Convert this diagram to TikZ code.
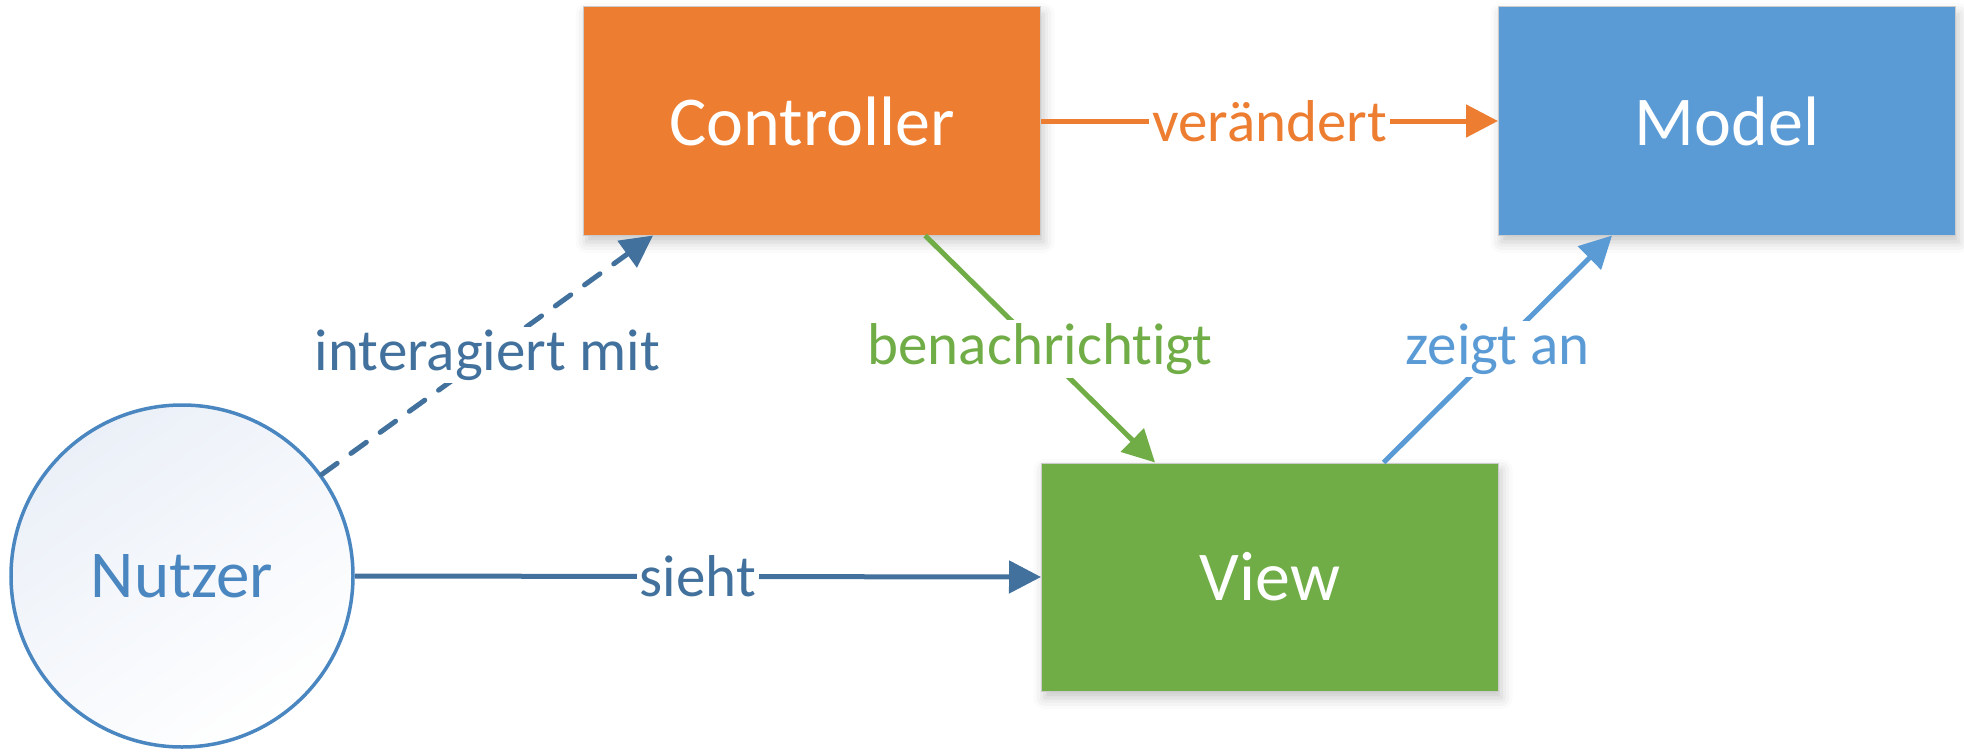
\documentclass[tikz,border=0pt]{standalone}
\usepackage{fontspec}
\setmainfont[RawFeature={-liga;-clig;-calt;-dlig}]{Carlito}
\usetikzlibrary{arrows.meta,calc,shadows.blur}
\definecolor{ctrlorange}{HTML}{ED7D31}
\definecolor{modelblue}{HTML}{5B9BD5}
\definecolor{viewgreen}{HTML}{70AD47}
\definecolor{userblue}{HTML}{41719C}
\definecolor{usertext}{HTML}{4A86C0}
\definecolor{userfill}{HTML}{EBF0F8}
\begin{document}
\begin{tikzpicture}[x=1pt,y=-1pt,
  box/.style={rectangle, draw=black!20, line width=1pt,
    minimum width=457pt, minimum height=228pt, inner sep=0pt,
    text=white, font=\fontsize{70}{84}\selectfont,
    blur shadow={shadow xshift=3pt, shadow yshift=-7pt,
      shadow blur radius=11pt, shadow opacity=22}},
  usernode/.style={circle, draw=usertext, line width=3.5pt,
    minimum size=342pt, inner sep=0pt, text=usertext,
    top color=userfill, bottom color=white, shading angle=35,
    font=\fontsize{67}{80}\selectfont},
  conn/.style={line width=5pt, -{Triangle[length=32pt,width=32pt]}},
  lbl/.style={fill=white, inner sep=3pt, font=\fontsize{59}{70}\selectfont}
]
\useasboundingbox (0,0) rectangle (1964,752);

% the three parts of the pattern and the user
\node[box, fill=ctrlorange] (ctrl)  at (812,121)  {Controller};
\node[box, fill=modelblue]  (model) at (1727,121) {Model};
\node[box, fill=viewgreen]  (view)  at (1270,577) {View};
\node[usernode] (user) at (182,576) {Nutzer};

% anchor points on the box edges
\coordinate (ctrlA)  at ($(ctrl.south west)!0.153!(ctrl.south east)$);
\coordinate (ctrlB)  at ($(ctrl.south west)!0.747!(ctrl.south east)$);
\coordinate (viewA)  at ($(view.north west)!0.249!(view.north east)$);
\coordinate (viewB)  at ($(view.north west)!0.748!(view.north east)$);
\coordinate (modelA) at ($(model.south west)!0.249!(model.south east)$);

% connectors
\draw[conn, ctrlorange] (ctrl.east) -- node[lbl, text=ctrlorange] {verändert} (model.west);
\draw[conn, userblue] (user.east) -- node[lbl, text=userblue] {sieht} (view.west);
\draw[conn, userblue, line cap=round, dash pattern=on 19pt off 17pt] (user.36) -- node[lbl, text=userblue] {interagiert mit} (ctrlA);
\draw[conn, viewgreen] (ctrlB) -- node[lbl, text=viewgreen] {benachrichtigt} (viewA);
\draw[conn, modelblue] (viewB) -- node[lbl, text=modelblue] {zeigt an} (modelA);
\end{tikzpicture}
\end{document}
